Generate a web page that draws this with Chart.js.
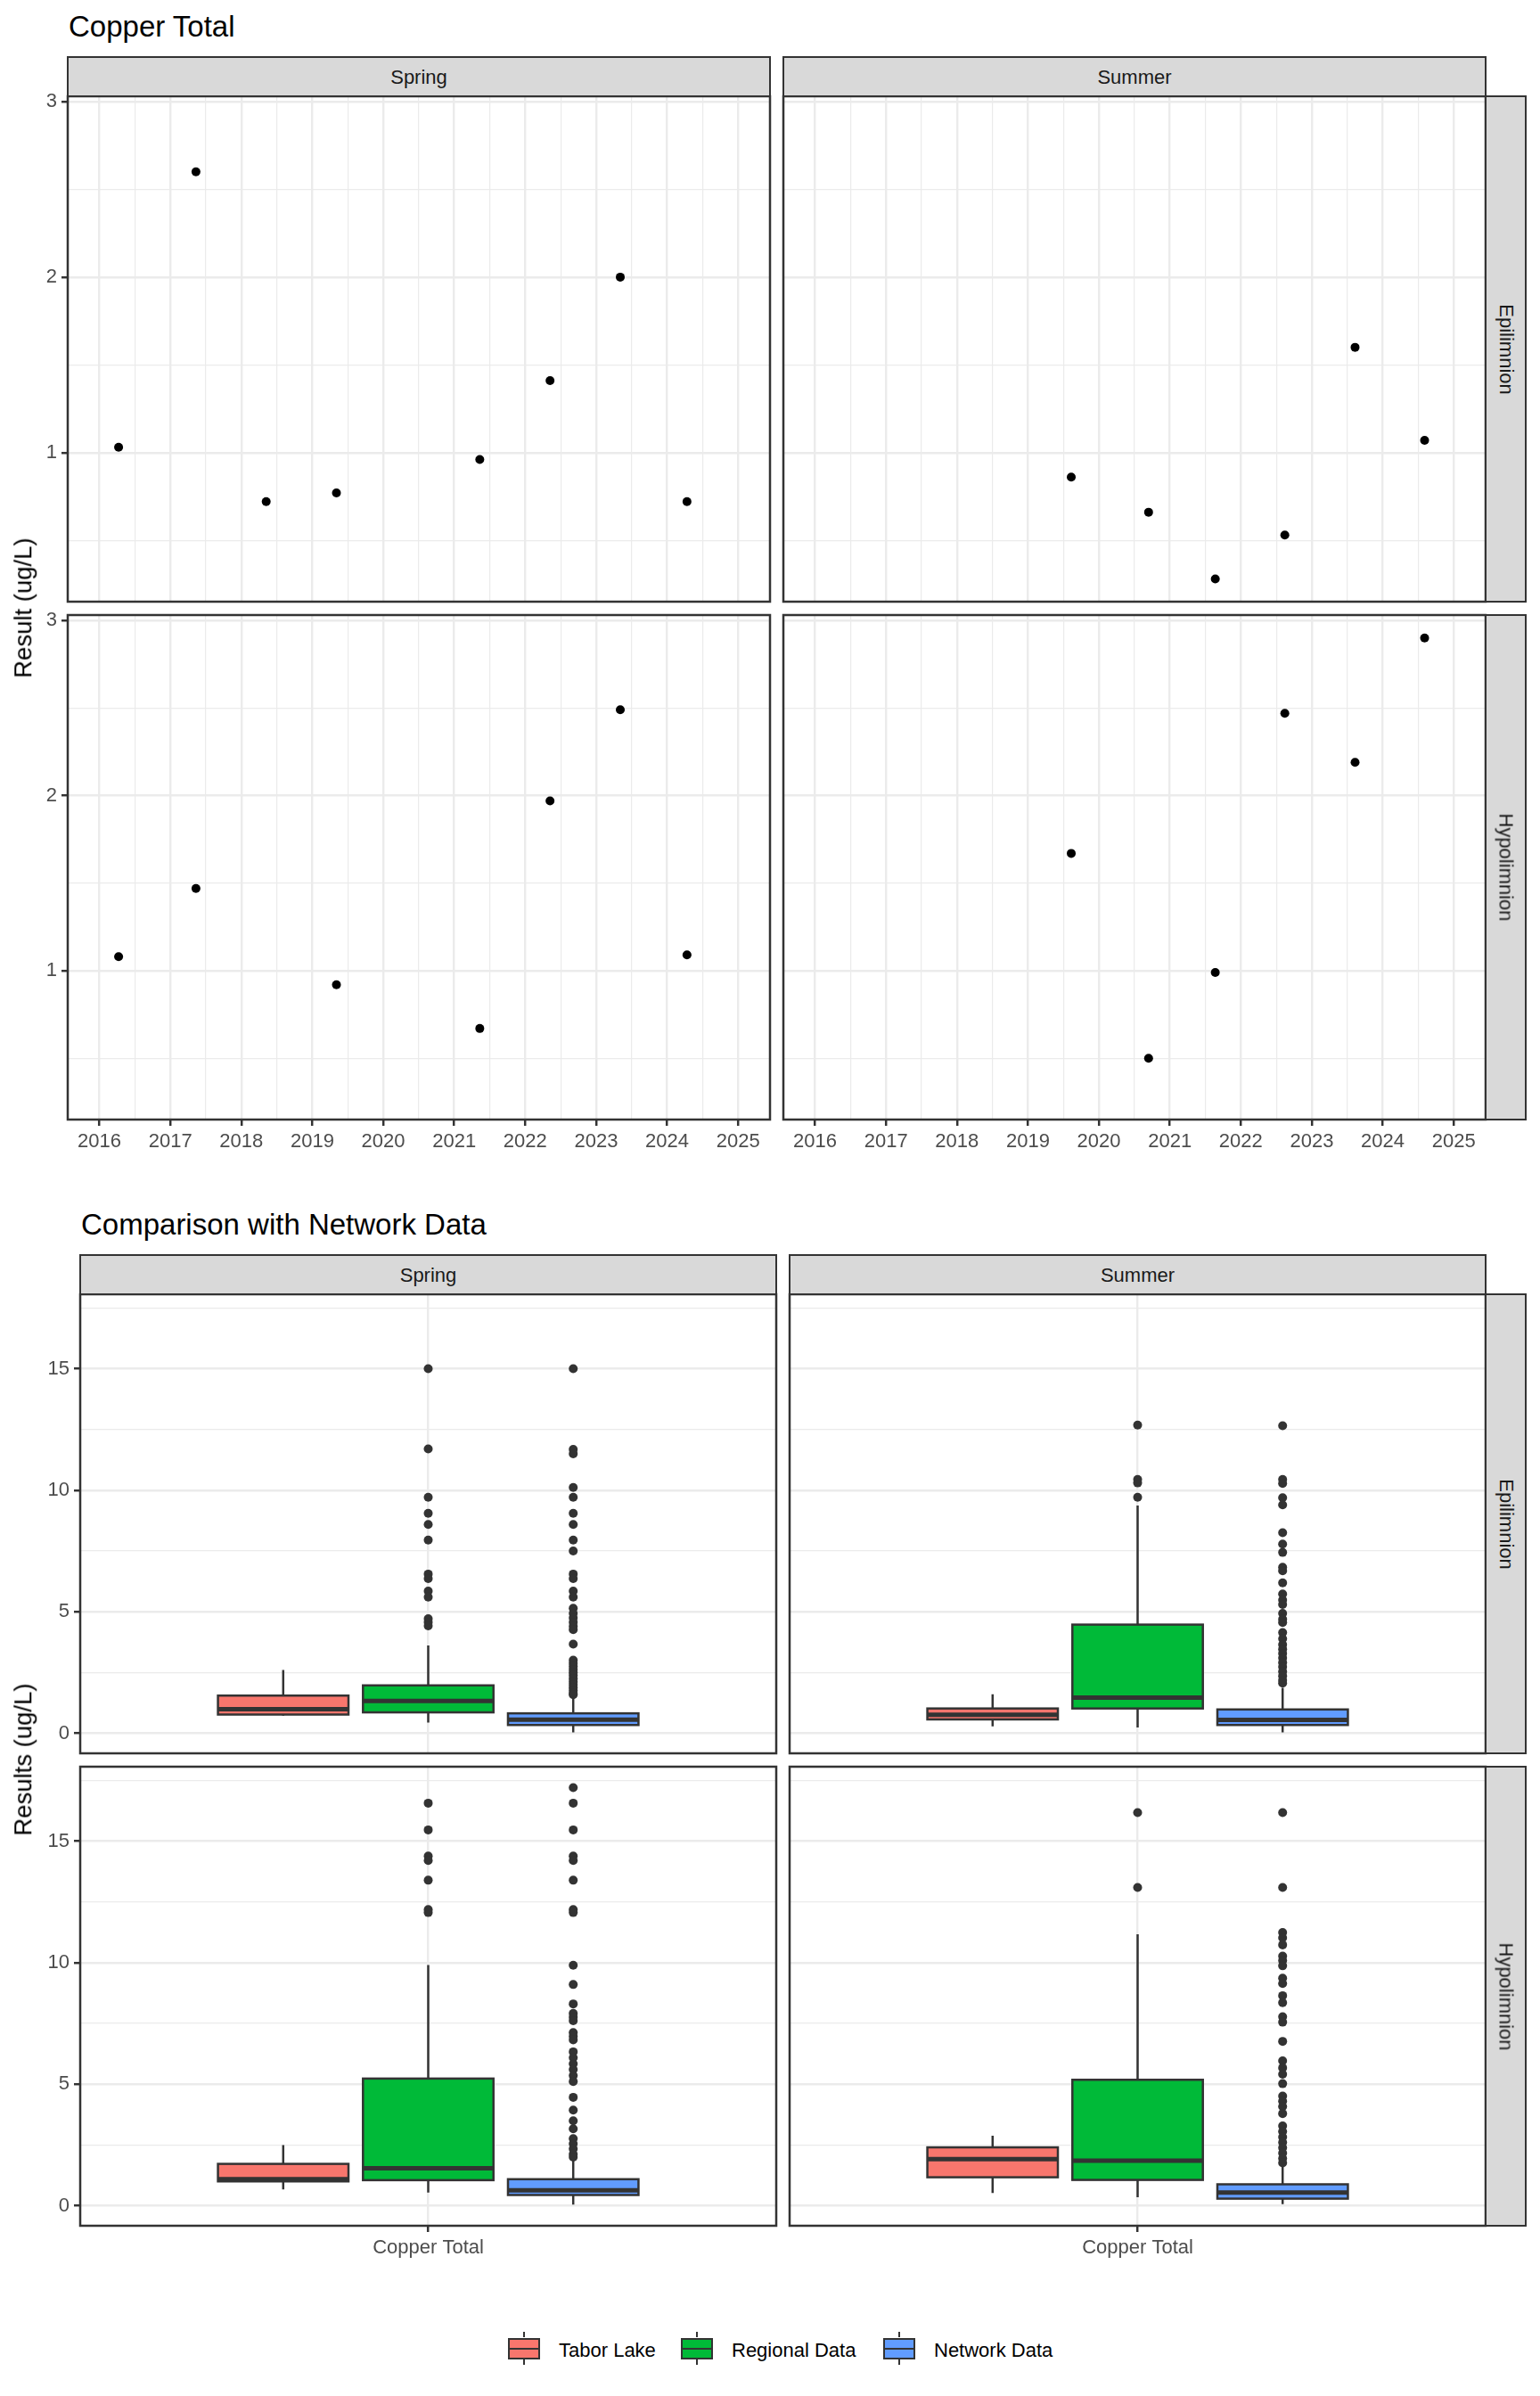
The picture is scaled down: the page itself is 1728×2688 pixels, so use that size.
<!DOCTYPE html>
<html>
<head>
<meta charset="utf-8">
<title>Copper Total</title>
<script src="https://cdn.jsdelivr.net/npm/chart.js@4.4.1/dist/chart.umd.min.js"></script>
<style>
  html, body { margin: 0; padding: 0; background: #fff; }
  body { width: 1728px; height: 2688px; position: relative; overflow: hidden;
         font-family: 'Liberation Sans', Arial, sans-serif; }
  canvas { position: absolute; }
  .title { position: absolute; font-size: 33px; line-height: 1; color: #000; white-space: nowrap; }
  .strip { position: absolute; box-sizing: border-box; background: #D9D9D9; border: 2.5px solid #333;
           color: #1A1A1A; font-size: 22px; line-height: 22px; white-space: nowrap; }
  .strip.top { text-align: center; padding-top: 11px; }
  .strip.side { display: flex; align-items: center; justify-content: center; }
  .strip.side span { transform: rotate(90deg); }
  .ytitle { position: absolute; font-size: 27.5px; line-height: 1; color: #000; white-space: nowrap;
            transform: translate(-50%, -50%) rotate(-90deg); }
  .key { position: absolute; width: 36px; height: 24px; box-sizing: border-box; border: 2.5px solid #333; }
  .key::before { content: ''; position: absolute; left: 0; right: 0; top: 8.5px; height: 2.5px; background: #333; }
  .key::after { content: ''; position: absolute; left: 14.5px; width: 2.5px; top: -9px; height: 37px;
                background: linear-gradient(#333 0 6.5px, transparent 6.5px 30.5px, #333 30.5px); }
  .ktext { position: absolute; font-size: 22px; line-height: 1; color: #000; white-space: nowrap; }
</style>
</head>
<body>
<script>
// --- top chart: Copper Total by sampling date ---
const seasons = ['Spring', 'Summer'];
const depths = ['Epilimnion', 'Hypolimnion'];

const yearTicks = [2016, 2016.5, 2017, 2017.5, 2018, 2018.5, 2019, 2019.5, 2020, 2020.5,
                   2021, 2021.5, 2022, 2022.5, 2023, 2023.5, 2024, 2024.5, 2025];
const resultTicks = [0.5, 1, 1.5, 2, 2.5, 3];

const springEpiYears  = [2016.27, 2017.36, 2018.35, 2019.34, 2021.36, 2022.35, 2023.34, 2024.28];
const springEpiValues = [1.03, 2.60, 0.72, 0.77, 0.96, 1.41, 2.00, 0.72];
const summerEpiYears  = [2019.61, 2020.70, 2021.64, 2022.62, 2023.61, 2024.59];
const summerEpiValues = [0.86, 0.66, 0.28, 0.53, 1.60, 1.07];
const springHypoYears  = [2016.27, 2017.36, 2019.34, 2021.36, 2022.35, 2023.34, 2024.28];
const springHypoValues = [1.08, 1.47, 0.92, 0.67, 1.97, 2.49, 1.09];
const summerHypoYears  = [2019.61, 2020.70, 2021.64, 2022.62, 2023.61, 2024.59];
const summerHypoValues = [1.67, 0.50, 0.99, 2.47, 2.19, 2.90];

// --- bottom chart: comparison with network data ---
const groups = ['Tabor Lake', 'Regional Data', 'Network Data'];
const groupColors = ['#F8766D', '#00BA38', '#619CFF'];
const categoryLabels = ['Copper Total'];
const resultsTicks = [0, 2.5, 5, 7.5, 10, 12.5, 15, 17.5];

// [lower whisker, q1, median, q3, upper whisker] per group
const springEpiBoxes = [[0.72, 0.77, 0.99, 1.55, 2.60], [0.44, 0.86, 1.33, 1.97, 3.61], [0.04, 0.34, 0.56, 0.82, 1.45]];
const summerEpiBoxes = [[0.28, 0.57, 0.76, 1.02, 1.60], [0.24, 1.02, 1.47, 4.47, 9.37], [0.04, 0.34, 0.55, 0.98, 1.87]];
const springHypoBoxes = [[0.67, 1.00, 1.09, 1.72, 2.49], [0.54, 1.05, 1.54, 5.23, 9.90], [0.05, 0.44, 0.63, 1.09, 1.88]];
const summerHypoBoxes = [[0.52, 1.17, 1.92, 2.40, 2.88], [0.35, 1.06, 1.85, 5.18, 11.17], [0.06, 0.29, 0.54, 0.88, 1.62]];

const springEpiOutliers = [
  [],
  [15.0, 11.70, 9.71, 9.05, 8.59, 7.95, 6.55, 6.36, 5.85, 5.60, 4.71, 4.57, 4.42],
  [15.0, 11.68, 11.50, 10.11, 9.71, 9.05, 8.59, 7.95, 7.50, 6.55, 6.36, 5.85, 5.60, 5.14, 4.93, 4.75,
   4.57, 4.40, 4.26, 3.67, 3.01, 2.88, 2.75, 2.62, 2.50, 2.38, 2.25, 2.12, 2.00, 1.88, 1.76, 1.64, 1.59]
];
const summerEpiOutliers = [
  [],
  [12.68, 10.44, 10.30, 9.71],
  [12.65, 10.44, 10.28, 9.69, 9.40, 8.25, 7.78, 7.44, 6.83, 6.68, 6.19, 5.73, 5.48, 5.30, 4.93, 4.69,
   4.56, 4.14, 3.89, 3.65, 3.46, 3.28, 3.10, 2.91, 2.73, 2.54, 2.36, 2.18, 2.06]
];
const springHypoOutliers = [
  [],
  [16.56, 15.46, 14.38, 14.20, 13.39, 12.18, 12.06],
  [17.2, 16.56, 15.46, 14.38, 14.20, 13.39, 12.18, 12.06, 9.89, 9.10, 8.30, 7.91, 7.76, 7.61, 7.12, 6.97,
   6.82, 6.33, 6.09, 5.84, 5.60, 5.35, 5.11, 4.46, 3.93, 3.49, 3.16, 2.76, 2.55, 2.34, 2.12, 2.00]
];
const summerHypoOutliers = [
  [],
  [16.17, 13.09],
  [16.17, 13.09, 11.24, 11.02, 10.73, 10.27, 10.08, 9.87, 9.36, 9.14, 8.64, 8.35, 7.77, 7.55, 6.76, 5.96,
   5.67, 5.41, 5.02, 4.51, 4.30, 4.08, 3.79, 3.28, 3.05, 2.82, 2.60, 2.38, 2.16, 1.94, 1.76]
];

// --- shared look (ggplot2 theme_bw) ---
const FONT = "'Liberation Sans', Arial, sans-serif";
Chart.defaults.font.family = FONT;
const PAD = { l: 80, t: 20, r: 20, b: 50 };
const groupPos = [0.75, 1.0, 1.25];
const boxHalf = 0.1125;

function addDiv(cls, text, style) {
  const d = document.createElement('div');
  d.className = cls;
  if (text !== null) d.innerHTML = text;
  Object.assign(d.style, style);
  document.body.appendChild(d);
  return d;
}

function axis(id, min, max, tickValues, isMajor, label, showLabels) {
  return {
    type: 'linear',
    position: id === 'x' ? 'bottom' : 'left',
    min: min, max: max, bounds: 'data',
    afterBuildTicks: s => { s.ticks = tickValues.map(v => ({ value: v })); },
    afterFit: s => {
      if (id === 'x') s.height = PAD.b; else s.width = PAD.l;
      s.paddingTop = 0; s.paddingBottom = 0; s.paddingLeft = 0; s.paddingRight = 0;
    },
    border: { display: false },
    grid: {
      color: '#EBEBEB',
      lineWidth: ctx => (ctx.tick && isMajor(ctx.tick.value)) ? 2.4 : 1.2,
      drawTicks: showLabels,
      tickLength: 7,
      tickWidth: 2.5,
      tickColor: ctx => (ctx.tick && isMajor(ctx.tick.value)) ? '#333333' : 'rgba(0,0,0,0)'
    },
    ticks: {
      display: showLabels, autoSkip: false, maxRotation: 0, minRotation: 0,
      padding: 5, color: '#4D4D4D', font: { size: 22, family: FONT },
      callback: v => isMajor(v) ? label(v) : ''
    }
  };
}

const borderPlugin = {
  id: 'panelBorder',
  afterDraw(chart) {
    const { ctx, chartArea: a } = chart;
    ctx.save();
    ctx.strokeStyle = '#333333';
    ctx.lineWidth = 2.5;
    ctx.strokeRect(a.left, a.top, a.right - a.left, a.bottom - a.top);
    ctx.restore();
  }
};

function boxPlugin(boxes) {
  return {
    id: 'boxes',
    beforeDatasetsDraw(chart) {
      const { ctx, scales: { x, y } } = chart;
      ctx.save();
      boxes.forEach((st, i) => {
        const xc = x.getPixelForValue(groupPos[i]);
        const xl = x.getPixelForValue(groupPos[i] - boxHalf);
        const xr = x.getPixelForValue(groupPos[i] + boxHalf);
        const [lo, q1, med, q3, hi] = st.map(v => y.getPixelForValue(v));
        ctx.strokeStyle = '#333333';
        ctx.lineWidth = 2.5;
        ctx.beginPath();
        ctx.moveTo(xc, hi); ctx.lineTo(xc, q3);
        ctx.moveTo(xc, q1); ctx.lineTo(xc, lo);
        ctx.stroke();
        ctx.fillStyle = groupColors[i];
        ctx.fillRect(xl, q3, xr - xl, q1 - q3);
        ctx.strokeRect(xl, q3, xr - xl, q1 - q3);
        ctx.lineWidth = 5;
        ctx.beginPath();
        ctx.moveTo(xl, med); ctx.lineTo(xr, med);
        ctx.stroke();
      });
      ctx.restore();
    }
  };
}

function makePanel(rect, datasets, scales, plugins) {
  const w = rect.r - rect.l + PAD.l + PAD.r;
  const h = rect.b - rect.t + PAD.t + PAD.b;
  const canvas = document.createElement('canvas');
  canvas.width = w; canvas.height = h;
  canvas.style.left = (rect.l - PAD.l) + 'px';
  canvas.style.top = (rect.t - PAD.t) + 'px';
  canvas.style.width = w + 'px';
  canvas.style.height = h + 'px';
  document.body.appendChild(canvas);
  return new Chart(canvas.getContext('2d'), {
    type: 'scatter',
    data: { datasets: datasets },
    options: {
      responsive: false, animation: false, devicePixelRatio: 1, events: [],
      layout: { padding: { top: PAD.t, right: PAD.r, left: 0, bottom: 0 } },
      plugins: { legend: { display: false }, tooltip: { enabled: false } },
      scales: scales
    },
    plugins: plugins.concat([borderPlugin])
  });
}

function strips(cols, rows, topY, sideX) {
  cols.forEach((c, i) => addDiv('strip top', seasons[i], {
    left: (c.l - 1.25) + 'px', top: topY + 'px', width: (c.r - c.l + 2.5) + 'px', height: (rows[0].t - topY + 1.25) + 'px'
  }));
  rows.forEach((r, i) => addDiv('strip side', '<span>' + depths[i] + '</span>', {
    left: (sideX - 1.25) + 'px', top: (r.t - 1.25) + 'px', width: '47px', height: (r.b - r.t + 2.5) + 'px'
  }));
}

// ---------- chart 1: Copper Total ----------
const topCols = [{ l: 76, r: 864 }, { l: 879, r: 1667 }];
const topRows = [{ t: 108, b: 675 }, { t: 690, b: 1256 }];
const topSeries = [
  [springEpiYears, springEpiValues], [summerEpiYears, summerEpiValues],
  [springHypoYears, springHypoValues], [summerHypoYears, summerHypoValues]
];
topSeries.forEach((s, k) => {
  const row = Math.floor(k / 2), col = k % 2;
  const rect = { l: topCols[col].l, r: topCols[col].r, t: topRows[row].t, b: topRows[row].b };
  makePanel(rect, [{
    data: s[0].map((yr, i) => ({ x: yr, y: s[1][i] })),
    pointRadius: 5, pointBackgroundColor: '#000', pointBorderWidth: 0
  }], {
    x: axis('x', 2015.553, 2025.45, yearTicks, v => Number.isInteger(v), v => String(v), row === 1),
    y: axis('y', 0.15, 3.031, resultTicks, v => Number.isInteger(v), v => String(v), col === 0)
  }, []);
});
addDiv('title', 'Copper Total', { left: '77px', top: '13px' });
strips(topCols, topRows, 63, 1667);
addDiv('ytitle', 'Result (ug/L)', { left: '26.3px', top: '682px' });

// ---------- chart 2: Comparison with Network Data ----------
const botCols = [{ l: 90, r: 871 }, { l: 886, r: 1667 }];
const botRows = [{ t: 1452, b: 1967 }, { t: 1982, b: 2497 }];
const botBoxes = [springEpiBoxes, summerEpiBoxes, springHypoBoxes, summerHypoBoxes];
const botOutliers = [springEpiOutliers, summerEpiOutliers, springHypoOutliers, summerHypoOutliers];
botBoxes.forEach((boxes, k) => {
  const row = Math.floor(k / 2), col = k % 2;
  const rect = { l: botCols[col].l, r: botCols[col].r, t: botRows[row].t, b: botRows[row].b };
  const outlierSets = botOutliers[k].map((vals, i) => ({
    data: vals.map(v => ({ x: groupPos[i], y: v })),
    pointRadius: 5, pointBackgroundColor: '#333333', pointBorderWidth: 0
  }));
  makePanel(rect, outlierSets, {
    x: axis('x', 0.4, 1.6, [1], v => v === 1, () => categoryLabels[0], row === 1),
    y: axis('y', -0.825, 18.06, resultsTicks, v => v % 5 === 0, v => String(v), col === 0)
  }, [boxPlugin(boxes)]);
});
addDiv('title', 'Comparison with Network Data', { left: '91px', top: '1357px' });
strips(botCols, botRows, 1407, 1667);
addDiv('ytitle', 'Results (ug/L)', { left: '26.3px', top: '1974px' });

// legend
const keyLefts = [570, 764, 991];
groups.forEach((g, i) => {
  addDiv('key', null, { left: keyLefts[i] + 'px', top: '2623px', background: groupColors[i] });
  addDiv('ktext', g, { left: (keyLefts[i] + 57) + 'px', top: '2626.4px' });
});
</script>
</body>
</html>
